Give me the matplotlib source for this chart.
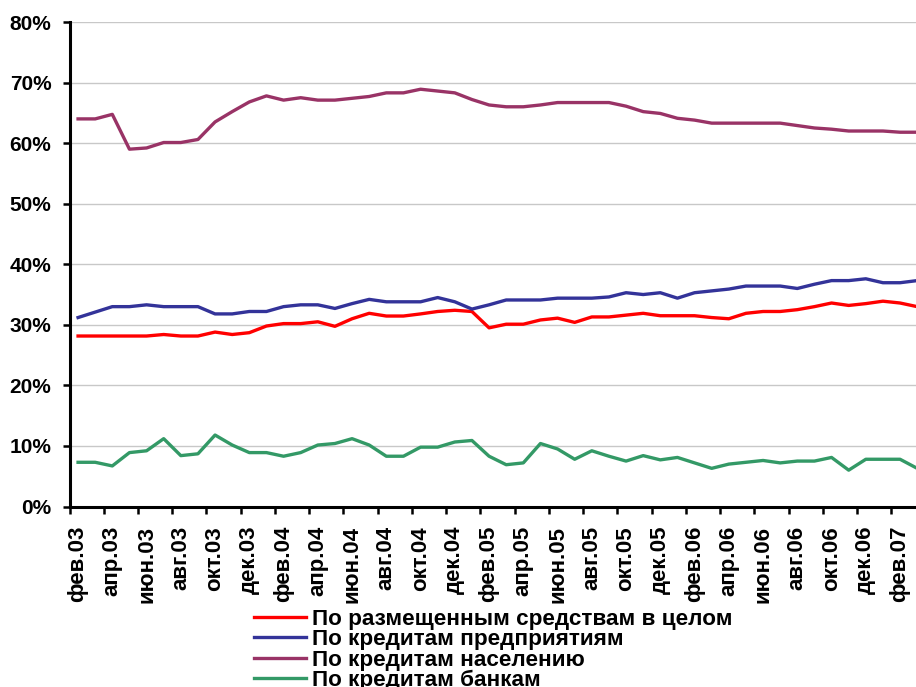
import numpy as np
import matplotlib
matplotlib.use('Agg')
import matplotlib.pyplot as plt
from matplotlib.ticker import FuncFormatter

plt.rcParams['font.family'] = ['Liberation Sans', 'DejaVu Sans']

# месяцы с фев.03 по мар.07
months = ['янв', 'фев', 'мар', 'апр', 'май', 'июн', 'июл', 'авг', 'сен', 'окт', 'ноя', 'дек']
labels = []
for k in range(50):
    m = (1 + k) % 12
    y = 3 + (1 + k) // 12
    labels.append('%s.%02d' % (months[m], y))

# доходность, %
total = [28.15, 28.15, 28.15, 28.15, 28.15, 28.4, 28.15, 28.15, 28.8, 28.4,
         28.7, 29.8, 30.2, 30.2, 30.5, 29.75, 31.0, 31.9, 31.45, 31.45,
         31.8, 32.2, 32.4, 32.2, 29.5, 30.1, 30.1, 30.8, 31.1, 30.4,
         31.3, 31.3, 31.6, 31.9, 31.5, 31.5, 31.5, 31.2, 31.0, 31.9,
         32.2, 32.2, 32.5, 33.0, 33.6, 33.2, 33.5, 33.9, 33.6, 33.0]
corporate = [31.2, 32.1, 33.0, 33.0, 33.3, 33.0, 33.0, 33.0, 31.8, 31.8,
             32.2, 32.2, 33.0, 33.3, 33.3, 32.7, 33.5, 34.2, 33.8, 33.8,
             33.8, 34.5, 33.8, 32.6, 33.3, 34.1, 34.1, 34.1, 34.4, 34.4,
             34.4, 34.6, 35.3, 35.0, 35.3, 34.4, 35.3, 35.6, 35.9, 36.4,
             36.4, 36.4, 36.0, 36.7, 37.3, 37.3, 37.6, 36.95, 36.95, 37.3]
retail = [64.0, 64.0, 64.75, 59.0, 59.2, 60.1, 60.1, 60.6, 63.5, 65.2,
          66.8, 67.8, 67.1, 67.5, 67.1, 67.1, 67.4, 67.7, 68.3, 68.3,
          68.9, 68.6, 68.3, 67.2, 66.3, 66.0, 66.0, 66.3, 66.7, 66.7,
          66.7, 66.7, 66.1, 65.2, 64.9, 64.1, 63.8, 63.3, 63.3, 63.3,
          63.3, 63.3, 62.9, 62.5, 62.3, 62.0, 62.0, 62.0, 61.8, 61.8]
banks = [7.3, 7.3, 6.7, 8.9, 9.2, 11.2, 8.4, 8.7, 11.8, 10.15,
         8.9, 8.9, 8.3, 8.9, 10.15, 10.4, 11.2, 10.15, 8.3, 8.3,
         9.8, 9.8, 10.65, 10.9, 8.3, 6.9, 7.2, 10.4, 9.5, 7.8,
         9.2, 8.3, 7.5, 8.4, 7.7, 8.1, 7.2, 6.3, 7.0, 7.3,
         7.6, 7.2, 7.5, 7.5, 8.1, 6.0, 7.8, 7.8, 7.8, 6.3]

series = [
    ('По размещенным средствам в целом', total, '#FF0000'),
    ('По кредитам предприятиям', corporate, '#333399'),
    ('По кредитам населению', retail, '#993366'),
    ('По кредитам банкам', banks, '#339966'),
]

W, H = 916, 687
fig = plt.figure(figsize=(W / 100, H / 100), dpi=100)
left, right = 69.5, 69.5 + 50 * 17.125
top, bottom = 22.0, 506.5
ax = fig.add_axes([left / W, 1 - bottom / H, (right - left) / W, (bottom - top) / H])

x = np.arange(len(labels))
for name, vals, col in series:
    ax.plot(x, vals, color=col, lw=2.4, label=name, solid_joinstyle='round')

ax.set_xlim(-0.5, 49.5)
ax.set_ylim(0, 80)

# ось Y
ax.set_yticks(np.arange(0, 81, 10))
ax.yaxis.set_major_formatter(FuncFormatter(lambda v, p: '%d%%' % v))
ax.yaxis.grid(True, color='#c8c8c8', lw=1.0)
ax.set_axisbelow(True)
ax.tick_params(axis='y', direction='out', length=5, width=1.8, pad=8,
               labelsize=15)
for t in ax.get_yticklabels():
    t.set_fontweight('bold')

# ось X: штрихи между категориями, подписи через месяц
ax.set_xticks(np.arange(-0.5, 50, 2))
ax.set_xticklabels([])
ax.set_xticks(x[::2], minor=True)
ax.set_xticklabels(labels[::2], minor=True, rotation=90, fontweight='bold',
                   fontsize=16)
ax.tick_params(axis='x', which='major', direction='out', length=5, width=1.8)
ax.tick_params(axis='x', which='minor', length=0, pad=14)

for s in ['top', 'right']:
    ax.spines[s].set_visible(False)
for s in ['left', 'bottom']:
    ax.spines[s].set_linewidth(2.2)

fig.legend(loc='upper left', bbox_to_anchor=(254 / W, 1 - 609 / H),
           frameon=False, prop={'weight': 'bold', 'size': 16.2},
           handlelength=2.3, handletextpad=0.26, labelspacing=-0.03,
           borderpad=0, borderaxespad=0)

fig.savefig('out.png', dpi=100)
